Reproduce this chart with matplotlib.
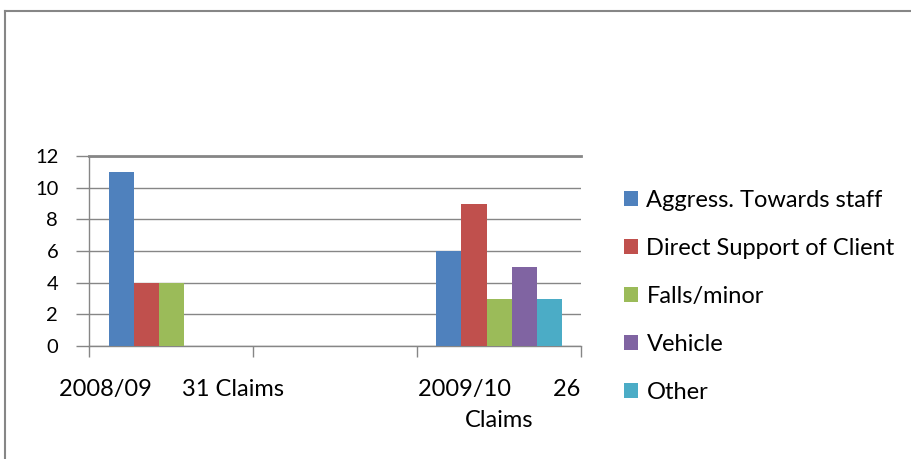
import matplotlib
matplotlib.use("Agg")
import matplotlib.pyplot as plt
from matplotlib.lines import Line2D
from matplotlib.patches import Patch
import numpy as np

plt.rcParams['font.family'] = ['Lato', 'DejaVu Sans']

categories = ["2008/09     31 Claims", "", "2009/10       26\nClaims"]
series_names = ["Aggress. Towards staff", "Direct Support of Client", "Falls/minor", "Vehicle", "Other"]
aggress = [11, 0, 6]
direct = [4, 0, 9]
falls = [4, 0, 3]
vehicle = [0, 0, 5]
other = [0, 0, 3]
colors = ["#4F81BD", "#C0504D", "#9BBB59", "#8064A2", "#4BACC6"]
yticks = [0, 2, 4, 6, 8, 10, 12]

W, H = 912, 459
GRID = "#868686"
fig = plt.figure(figsize=(W / 100, H / 100), dpi=100)
ax = fig.add_axes([89.5 / W, (H - 346) / H, 491.5 / W, 190 / H])

x = np.arange(len(categories))
bw = 0.1535
all_series = [aggress, direct, falls, vehicle, other]
for i, (vals, c, name) in enumerate(zip(all_series, colors, series_names)):
    ax.bar(x + (i - 2) * bw, vals, width=bw, color=c, label=name, zorder=3)

ax.set_xlim(-0.5, 2.5)
ax.set_ylim(0, 12)
ax.set_yticks(yticks)
ax.set_yticklabels([str(v) for v in yticks], fontsize=14.5)
ax.yaxis.grid(True, color=GRID, linewidth=1.0, zorder=0)
ax.tick_params(axis='y', length=9.5, width=1.0, color=GRID, pad=13, labelcolor="black")

ax.set_xticks([-0.5, 0.5, 1.5, 2.5])
ax.set_xticklabels([])
ax.tick_params(axis='x', which='major', length=8, width=1.0, color=GRID, direction='out')
ax.set_xticks(x, minor=True)
ax.set_xticklabels(categories, minor=True, fontsize=17, linespacing=1.55, va='top')
ax.tick_params(axis='x', which='minor', length=0, pad=24)

ax.spines['right'].set_visible(False)
ax.spines['top'].set_color(GRID)
ax.spines['top'].set_linewidth(2.0)
for s in ['left', 'bottom']:
    ax.spines[s].set_color(GRID)
    ax.spines[s].set_linewidth(1.0)

handles = [Patch(facecolor=c, edgecolor='none') for c in colors]
fig.legend(handles, series_names, loc='upper left', bbox_to_anchor=(624 / W, 1 - 190 / H),
           frameon=False, fontsize=17, handlelength=0.6, handleheight=0.6,
           handletextpad=0.35, labelspacing=1.14, borderaxespad=0, borderpad=0)

# chart border (left & top)
fig.add_artist(Line2D([5.5 / W, 5.5 / W], [0, 1 - 11 / H], transform=fig.transFigure,
                      color=GRID, linewidth=1.5))
fig.add_artist(Line2D([5.5 / W, 1], [1 - 11 / H, 1 - 11 / H], transform=fig.transFigure,
                      color=GRID, linewidth=1.5))

fig.savefig("out.png", dpi=100)
